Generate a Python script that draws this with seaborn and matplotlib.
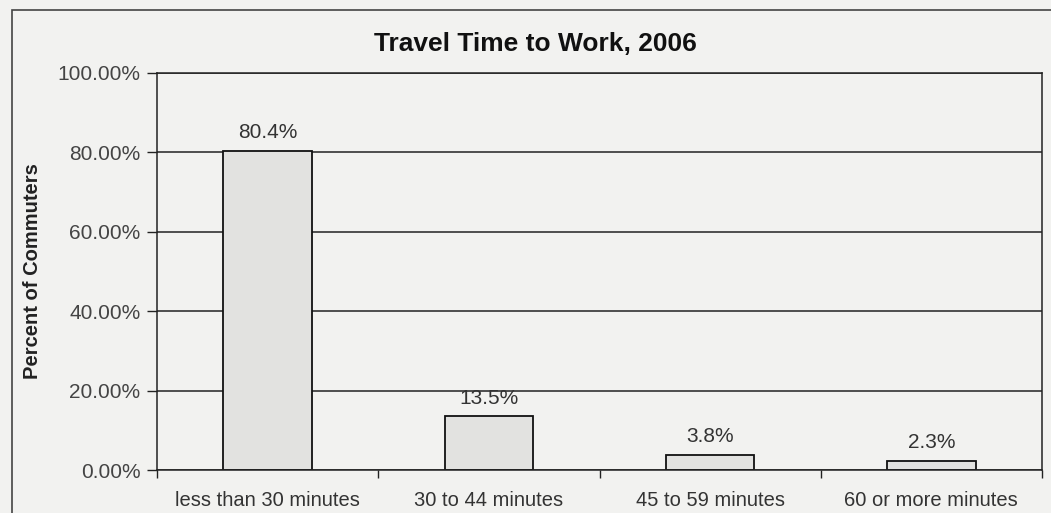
import matplotlib
matplotlib.use("Agg")
import matplotlib.pyplot as plt
import seaborn as sns
import pandas as pd
from matplotlib.patches import Rectangle
from matplotlib.ticker import FuncFormatter

categories = ["less than 30 minutes", "30 to 44 minutes", "45 to 59 minutes", "60 or more minutes"]
percents = [80.4, 13.5, 3.8, 2.3]
value_labels = ["80.4%", "13.5%", "3.8%", "2.3%"]
yticks = [0, 20, 40, 60, 80, 100]

df = pd.DataFrame({"category": categories, "percent": percents})

sns.set_style("white")
plt.rcParams["font.family"] = ["Liberation Sans", "DejaVu Sans"]

bg = "#f2f2f0"
fig = plt.figure(figsize=(10.51, 5.13), dpi=100, facecolor=bg)
ax = fig.add_axes([157/1051, 1 - 470/513, (1042 - 157)/1051, (470 - 73)/513])
ax.set_facecolor(bg)

sns.barplot(data=df, x="category", y="percent", ax=ax, color="#e2e2e0",
            edgecolor="#111111", linewidth=1.3, width=0.4, saturation=1)

ax.set_ylim(0, 100)
ax.set_xlim(-0.5, 3.5)
ax.set_yticks(yticks)
ax.yaxis.set_major_formatter(FuncFormatter(lambda v, p: f"{v:.2f}%"))
ax.yaxis.grid(True, color="#222222", linewidth=1.1)
ax.set_axisbelow(True)

for i, (v, lab) in enumerate(zip(percents, value_labels)):
    ax.text(i, v + 2.2, lab, ha="center", va="bottom", fontsize=15, color="#333333")

ax.set_xlabel("")
ax.set_ylabel("Percent of Commuters", fontsize=14.5, fontweight="bold", color="#222222")
ax.yaxis.set_label_coords((42 - 157) / 885, 0.5)
fig.text(535/1051, 1 - 44/513, "Travel Time to Work, 2006", fontsize=19, fontweight="bold",
         color="#111111", ha="center", va="center")

ax.tick_params(axis="y", length=7, width=1, colors="#222222", labelsize=15, labelcolor="#444444", left=True, pad=5)
ax.tick_params(axis="x", length=0, labelsize=14.5, labelcolor="#333333", pad=15)
# minor ticks between categories on x axis
ax.set_xticks([-0.5, 0.5, 1.5, 2.5, 3.5], minor=True)
ax.tick_params(axis="x", which="minor", length=6, width=1, colors="#222222", bottom=True)

for s in ["left", "bottom", "right", "top"]:
    ax.spines[s].set_visible(True)
    ax.spines[s].set_color("#222222")
    ax.spines[s].set_linewidth(1.1)

# outer chart border (partially cropped in the scan)
fig.patches.append(Rectangle((12/1051, -0.2), 1.2, 1.2 - 10/513,
                             transform=fig.transFigure, fill=False,
                             edgecolor="#444444", linewidth=1.2))

fig.savefig("out.png", dpi=100, facecolor=bg)
